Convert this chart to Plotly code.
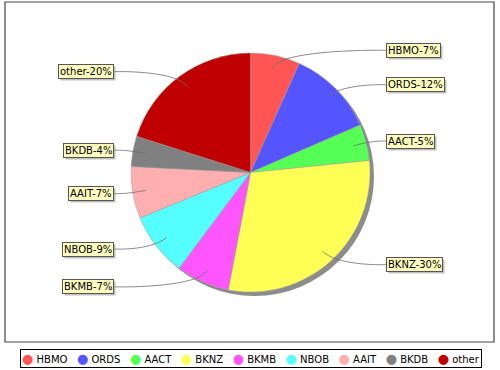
import math
import plotly.graph_objects as go

# ---- data ----
names = ["HBMO", "ORDS", "AACT", "BKNZ", "BKMB", "NBOB", "AAIT", "BKDB", "other"]
values = [6.7, 11.8, 4.9, 29.6, 7.2, 8.6, 7.0, 4.1, 20.1]
colors = ["#FF5555", "#5555FF", "#55FF55", "#FFFF55", "#FF55FF",
          "#55FFFF", "#FFAFAF", "#808080", "#C00000"]

W, H = 500, 370
cx, cy, R = 250.5, 172.5, 119.5
FONT = "DejaVu Sans"

total = sum(values)
pcts = [v / total * 100 for v in values]
labels = [f"{n}-{round(p)}%" for n, p in zip(names, pcts)]


def px(x):
    return x / W


def py(y):
    return 1 - y / H


fig = go.Figure()

# shadow pie
fig.add_trace(go.Pie(
    values=[1], marker=dict(colors=["#8C8C8C"], line=dict(width=0)),
    domain=dict(x=[px(cx - R + 4), px(cx + R + 4)], y=[py(cy + R + 4), py(cy - R + 4)]),
    textinfo="none", hoverinfo="skip", showlegend=False, sort=False,
))

# main pie
fig.add_trace(go.Pie(
    labels=names, values=values, sort=False, direction="clockwise", rotation=0,
    marker=dict(colors=colors, line=dict(color="#A0A0A0", width=0.5)),
    domain=dict(x=[px(cx - R), px(cx + R)], y=[py(cy + R), py(cy - R)]),
    textinfo="none", hoverinfo="skip", showlegend=False,
))

shapes = []
annotations = []
cum = 0.0
for name, v, lab in zip(names, values, labels):
    theta = (cum + v / 2) / total * 2 * math.pi
    cum += v
    s, c = math.sin(theta), math.cos(theta)
    right = s > 0
    sign = 1 if right else -1
    labelY = cy - c * 1.045 * R
    lx, ly = cx + s * 0.89 * R, cy - c * 0.89 * R
    ex, ey = cx + s * 1.05 * R, cy - c * 1.05 * R
    ax = cx + sign * 1.07 * R
    tx = cx + 1.135 * R if right else cx - 1.145 * R
    path = (f"M {px(lx)},{py(ly)} C {px(ex)},{py(ey)} {px(ax)},{py(ey)} "
            f"{px(tx)},{py(labelY)}")
    shapes.append(dict(type="path", path=path, xref="paper", yref="paper",
                       line=dict(color="#6E6E6E", width=0.8)))
    common = dict(x=px(tx), y=py(labelY), xref="paper", yref="paper",
                  xanchor="left" if right else "right", yanchor="middle",
                  text=lab, showarrow=False, borderpad=1, borderwidth=1)
    annotations.append(dict(common, font=dict(family=FONT, size=10, color="rgba(0,0,0,0)"),
                            bgcolor="rgba(140,140,140,0.55)", bordercolor="rgba(0,0,0,0)",
                            xshift=2, yshift=-2))
    annotations.append(dict(common, font=dict(family=FONT, size=10, color="black"),
                            bgcolor="#FFFFC0", bordercolor="#555555"))

# plot area border
shapes.append(dict(type="rect", xref="paper", yref="paper",
                   x0=px(5), x1=px(494), y0=py(342), y1=py(2),
                   line=dict(color="#444444", width=1.2), layer="below"))

# legend as text
gap = "\u00a0"
parts = []
for n, col in zip(names, colors):
    parts.append(f"<span style='color:{col};font-size:13px'>\u25CF</span>{gap}{n}")
legend_text = (gap * 3).join(parts)
annotations.append(dict(x=px(250.5), y=py(358), xref="paper", yref="paper",
                        xanchor="center", yanchor="middle", text=legend_text,
                        showarrow=False, font=dict(family=FONT, size=10, color="black"),
                        bgcolor="white", bordercolor="black", borderwidth=1, borderpad=1))

fig.update_layout(
    width=W, height=H, margin=dict(l=0, r=0, t=0, b=0),
    paper_bgcolor="white", plot_bgcolor="white",
    shapes=shapes, annotations=annotations, showlegend=False,
)

fig.write_html("out.html", config={"displayModeBar": False},
               post_script="document.body.style.margin='0px';")
